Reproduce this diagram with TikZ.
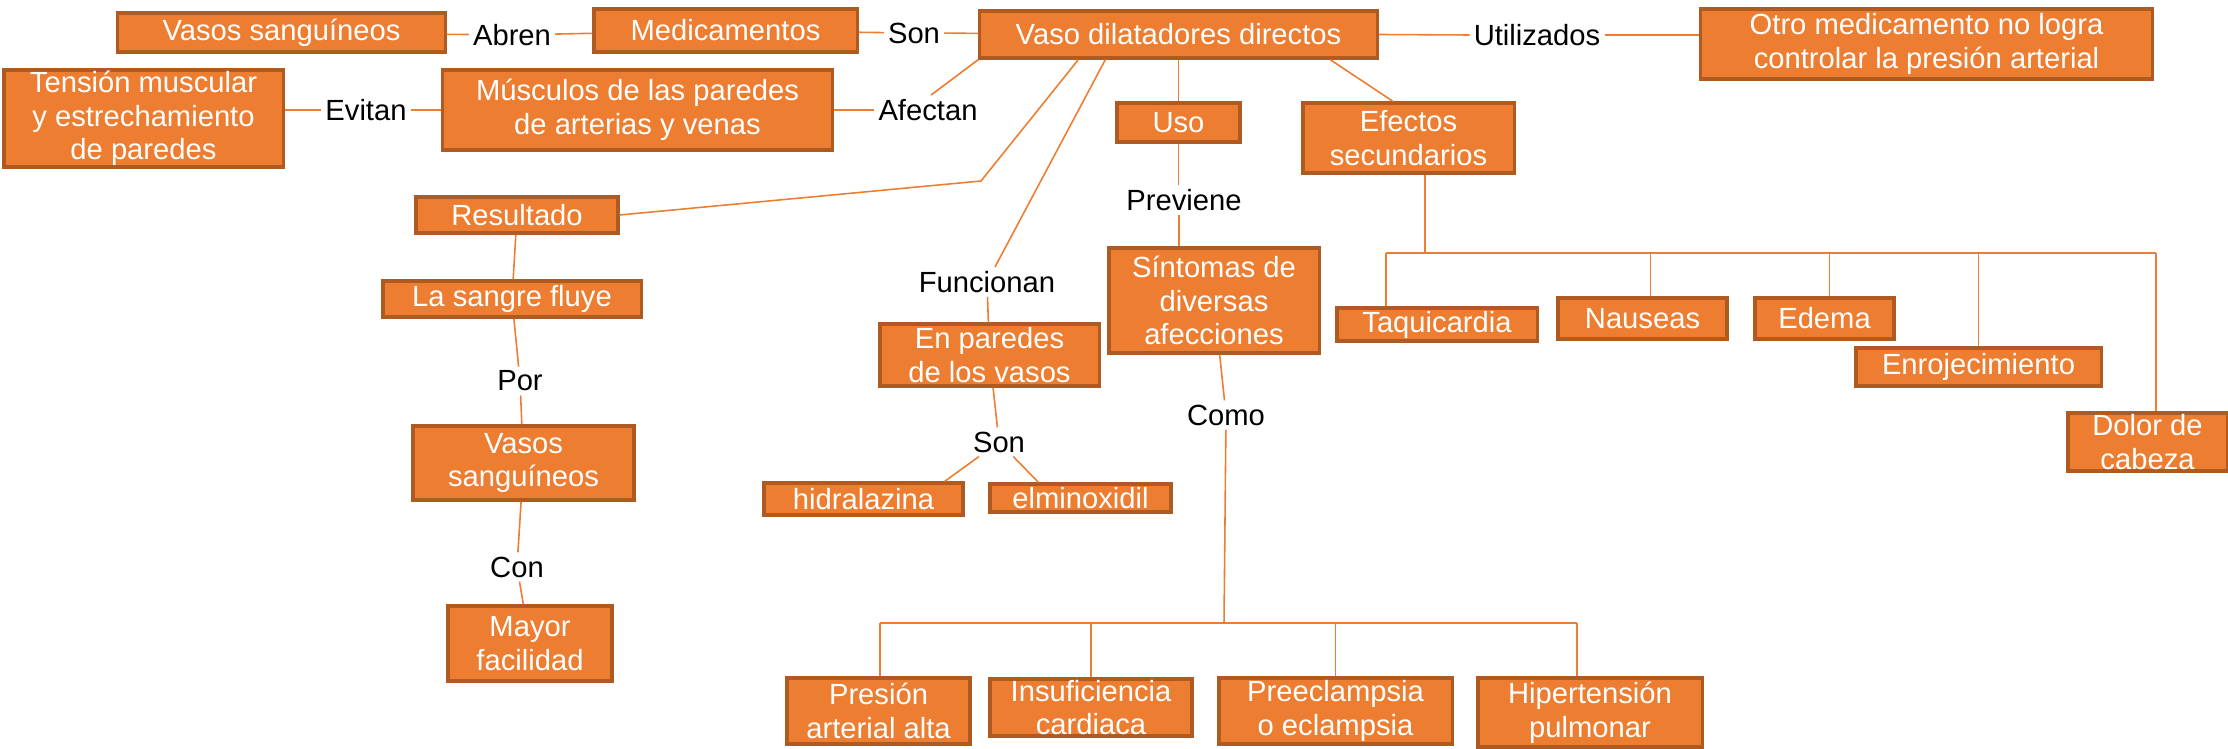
\documentclass[tikz,border=0pt]{standalone}
\usepackage{fontspec}
\setmainfont{Liberation Sans}
\definecolor{naranja}{HTML}{ED7D31}
\definecolor{borde}{HTML}{AE5A21}
\begin{document}
\begin{tikzpicture}[x=0.01cm,y=-0.01cm]
		\tikzstyle{caja}=[draw=borde,fill=naranja,line width=0.9pt,text=white,align=center,inner sep=0pt,font=\fontsize{8.3}{9.6}\selectfont]
		\tikzstyle{enlace}=[text=black,inner sep=1pt,font=\fontsize{8.3}{9.6}\selectfont]
		\tikzstyle{linea}=[draw=naranja,line width=0.45pt]
		\useasboundingbox (0,0) rectangle (2228,749);
		\node[caja,minimum width=3.27cm,minimum height=0.39cm] (Vasos) at (281.5,32.5) {Vasos sanguíneos};
		\node[enlace] (Abren) at (512,35) {Abren};
		\node[caja,minimum width=2.63cm,minimum height=0.43cm] (Medic) at (725.5,30.5) {Medicamentos};
		\node[enlace] (Son) at (914,33) {Son};
		\node[caja,minimum width=3.97cm,minimum height=0.47cm] (Vaso) at (1178.5,34.5) {Vaso dilatadores directos};
		\node[enlace] (Utilizados) at (1537,35) {Utilizados};
		\node[caja,minimum width=4.51cm,minimum height=0.70cm] (Otro) at (1926.5,44) {Otro medicamento no logra\\controlar la presión arterial};
		\node[caja,minimum width=2.79cm,minimum height=0.97cm] (Tension) at (143.5,118.5) {Tensión muscular\\y estrechamiento\\de paredes};
		\node[enlace] (Evitan) at (366,110) {Evitan};
		\node[caja,minimum width=3.89cm,minimum height=0.80cm] (Musculos) at (637.5,110) {Músculos de las paredes\\de arterias y venas};
		\node[enlace] (Afectan) at (928,110) {Afectan};
		\node[caja,minimum width=2.02cm,minimum height=0.36cm] (Resultado) at (517,215) {Resultado};
		\node[caja,minimum width=2.58cm,minimum height=0.36cm] (Sangre) at (512,299) {La sangre fluye};
		\node[enlace] (Por) at (520,381) {Por};
		\node[caja,minimum width=2.21cm,minimum height=0.74cm] (VasosB) at (523.5,463) {Vasos\\sanguíneos};
		\node[enlace] (Con) at (517,567) {Con};
		\node[caja,minimum width=1.64cm,minimum height=0.75cm] (Mayor) at (530,643.5) {Mayor\\facilidad};
		\node[enlace] (Funcionan) at (987,282) {Funcionan};
		\node[caja,minimum width=2.19cm,minimum height=0.62cm] (Paredes) at (989.5,355) {En paredes\\de los vasos};
		\node[enlace] (SonB) at (999,442) {Son};
		\node[caja,minimum width=1.99cm,minimum height=0.32cm] (Hidra) at (863.5,499) {hidralazina};
		\node[caja,minimum width=1.81cm,minimum height=0.28cm] (Elmino) at (1080.5,498) {elminoxidil};
		\node[caja,minimum width=1.23cm,minimum height=0.39cm] (Uso) at (1178.5,122.5) {Uso};
		\node[enlace] (Previene) at (1184,200) {Previene};
		\node[caja,minimum width=2.10cm,minimum height=1.05cm] (Sintomas) at (1214,300.5) {Síntomas de\\diversas\\afecciones};
		\node[enlace] (Como) at (1226,415) {Como};
		\node[caja,minimum width=2.11cm,minimum height=0.70cm] (Efectos) at (1408.5,138) {Efectos\\secundarios};
		\node[caja,minimum width=2.00cm,minimum height=0.33cm] (Taqui) at (1437,324.5) {Taquicardia};
		\node[caja,minimum width=1.69cm,minimum height=0.41cm] (Nauseas) at (1642.5,318.5) {Nauseas};
		\node[caja,minimum width=1.39cm,minimum height=0.41cm] (Edema) at (1824.5,318.5) {Edema};
		\node[caja,minimum width=2.45cm,minimum height=0.38cm] (Enroj) at (1978.5,367) {Enrojecimiento};
		\node[caja,minimum width=1.59cm,minimum height=0.58cm] (Dolor) at (2147.5,442) {Dolor de\\cabeza};
		\node[caja,minimum width=1.83cm,minimum height=0.66cm] (Presion) at (878.5,711) {Presión\\arterial alta};
		\node[caja,minimum width=2.02cm,minimum height=0.57cm] (Insuf) at (1091,707.5) {Insuficiencia\\cardiaca};
		\node[caja,minimum width=2.33cm,minimum height=0.66cm] (Preec) at (1335.5,711) {Preeclampsia\\o eclampsia};
		\node[caja,minimum width=2.24cm,minimum height=0.69cm] (Hiper) at (1590,712.5) {Hipertensión\\pulmonar};
		\coordinate (Codo) at (981,181);
		\coordinate (BusA) at (1224,623);
		\coordinate (BusAizq) at (880,623);
		\coordinate (BusAder) at (1577,623);
		\coordinate (BusB) at (1425,253);
		\coordinate (BusBizq) at (1386,253);
		\coordinate (BusBder) at (2156,253);
		\draw[linea] (Vasos) -- (Abren);
		\draw[linea] (Abren) -- (Medic);
		\draw[linea] (Medic) -- (Son);
		\draw[linea] (Son) -- (Vaso);
		\draw[linea] (Vaso.east) -- (Utilizados.west);
		\draw[linea] (Utilizados.east) -- (Utilizados.east -| Otro.west);
		\draw[linea] (Evitan.west -| Tension.east) -- (Evitan.west);
		\draw[linea] (Evitan) -- (Evitan -| Musculos.west);
		\draw[linea] (Afectan -| Musculos.east) -- (Afectan);
		\draw[linea] ([xshift=0.03cm]Afectan.north) -- (Vaso.south west);
		\draw[linea] ([xshift=1cm]Vaso.south west) -- (Codo) -- (Resultado.east);
		\draw[linea] ([xshift=1.27cm]Vaso.south west) -- (Funcionan);
		\draw[linea] (Funcionan) -- (Paredes);
		\draw[linea] (Paredes) -- (SonB);
		\draw[linea] (SonB) -- ([xshift=-0.2cm]Hidra.north east);
		\draw[linea] (SonB) -- ([xshift=-0.42cm]Elmino.north);
		\draw[linea] (Resultado) -- (Sangre);
		\draw[linea] (Sangre) -- (Por);
		\draw[linea] (Por) -- (VasosB);
		\draw[linea] (VasosB) -- (Con);
		\draw[linea] (Con) -- (Mayor);
		\draw[linea] (Vaso) -- (Uso);
		\draw[linea] (Uso.south) -- (Uso.south |- Previene.north);
		\draw[linea] ([xshift=-0.05cm]Previene.south) -- ([xshift=-0.05cm]Previene.south |- Sintomas.north);
		\draw[linea] (Sintomas) -- (Como);
		\draw[linea] (Como) -- (BusA);
		\draw[linea] (BusAizq) -- (BusAder);
		\draw[linea] (BusAizq) -- (BusAizq |- Presion.north);
		\foreach \n in {Insuf,Preec} \draw[linea] (\n.north |- BusA) -- (\n.north);
		\draw[linea] (BusAder) -- (BusAder |- Hiper.north);
		\draw[linea] ([xshift=1.515cm]Vaso.south) -- ([xshift=-0.155cm]Efectos.north);
		\draw[linea] (Efectos.south -| BusB) -- (BusB);
		\draw[linea] (BusBizq) -- (BusBder);
		\draw[linea] (BusBizq) -- (BusBizq |- Taqui.north);
		\foreach \n/\d in {Nauseas/0.08,Edema/0.05,Enroj/0} \draw[linea] ([xshift=\d cm]\n.north |- BusB) -- ([xshift=\d cm]\n.north);
		\draw[linea] (BusBder) -- (BusBder |- Dolor.north);
	\end{tikzpicture}
\end{document}
